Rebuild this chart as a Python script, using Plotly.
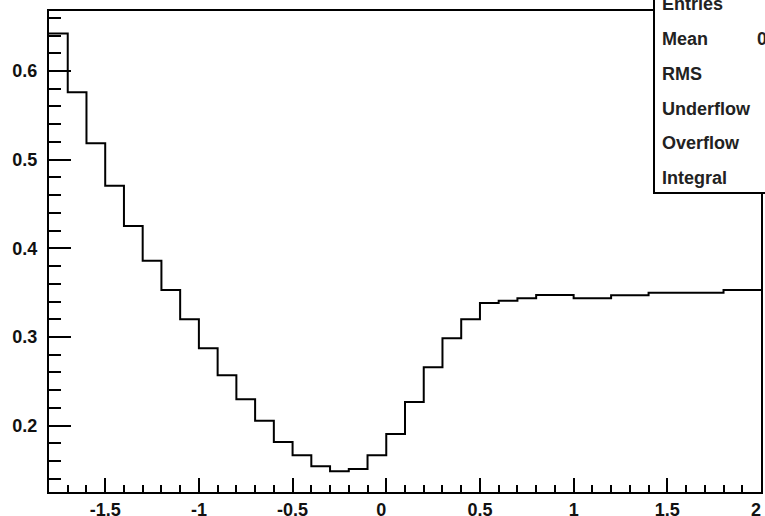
import plotly.graph_objects as go

# histogram: 38 bins of width 0.1 from -1.8 to 2.0
bin_edges = [round(-1.8 + 0.1 * i, 1) for i in range(39)]
bin_values = [
    0.6423, 0.5760, 0.5185, 0.4707, 0.4252, 0.3861, 0.3530, 0.3200, 0.2873, 0.2568,
    0.2298, 0.2056, 0.1816, 0.1666, 0.1542, 0.1486, 0.1512, 0.1666, 0.1906, 0.2267,
    0.2659, 0.2986, 0.3200, 0.3384, 0.3410, 0.3437, 0.3474, 0.3474, 0.3437, 0.3437,
    0.3471, 0.3471, 0.3500, 0.3500, 0.3500, 0.3500, 0.3530, 0.3530,
]
x_tick_vals = [-1.5, -1, -0.5, 0, 0.5, 1, 1.5, 2]
x_tick_text = ["-1.5", "-1", "-0.5", "0\u00a0\u00a0", "0.5", "1", "1.5", "2\u00a0\u00a0"]
y_tick_vals = [0.2, 0.3, 0.4, 0.5, 0.6]
y_tick_text = ["0.2", "0.3", "0.4", "0.5", "0.6"]
stats_labels = ["Entries", "Mean", "RMS", "Underflow", "Overflow", "Integral"]
stats_mean_text = "0"

W, H = 765, 516
L, R, T, B = 49, 4, 11, 24
PW, PH = W - L - R, H - T - B

def px_x(p):
    return (p - L) / PW

def px_y(p):
    return (H - B - p) / PH

xs = bin_edges
ys = bin_values + [bin_values[-1]]

fig = go.Figure()
fig.add_trace(go.Scatter(
    x=xs, y=ys, mode="lines", line=dict(shape="hv", color="black", width=2),
    hoverinfo="skip", showlegend=False, cliponaxis=True,
))

font = dict(family="Liberation Sans", size=18, color="#111111", weight="bold")

fig.update_layout(
    width=W, height=H,
    margin=dict(l=L, r=R, t=T, b=B, pad=0, autoexpand=False),
    paper_bgcolor="white", plot_bgcolor="white",
    showlegend=False,
    xaxis=dict(
        range=[-1.8, 2.0], showgrid=False, zeroline=False, automargin=False,
        showline=True, linecolor="black", linewidth=2, mirror=True,
        ticks="inside", ticklen=14, tickwidth=2, tickcolor="black",
        tickvals=x_tick_vals, ticktext=x_tick_text, tickfont=font,
        ticklabelstandoff=0, ticklabeloverflow="allow",
        minor=dict(dtick=0.1, tick0=0, ticks="inside", ticklen=7, tickwidth=2,
                   tickcolor="black", showgrid=False),
    ),
    yaxis=dict(
        range=[0.1252, 0.6677], showgrid=False, zeroline=False, automargin=False,
        showline=True, linecolor="black", linewidth=2, mirror=True,
        ticks="inside", ticklen=22, tickwidth=2, tickcolor="black",
        tickvals=y_tick_vals, ticktext=y_tick_text, tickfont=font,
        ticklabelstandoff=6, ticklabeloverflow="allow",
        minor=dict(dtick=0.02, tick0=0, ticks="inside", ticklen=12, tickwidth=2,
                   tickcolor="black", showgrid=False),
    ),
)

# stats box
fig.add_shape(type="rect", xref="paper", yref="paper",
              x0=px_x(654), x1=px_x(800), y0=px_y(193), y1=px_y(-20),
              fillcolor="white", line=dict(color="black", width=2), layer="above")

stats_font = dict(family="Liberation Sans", size=18, color="#222222", weight="bold")
stat_y = [4.2, 39, 73.8, 108.6, 143.4, 178.2]
for lab, yy in zip(stats_labels, stat_y):
    fig.add_annotation(text=lab, xref="paper", yref="paper", x=px_x(660), y=px_y(yy),
                       xanchor="left", yanchor="middle", showarrow=False, font=stats_font)
fig.add_annotation(text=stats_mean_text, xref="paper", yref="paper", x=px_x(755), y=px_y(39),
                   xanchor="left", yanchor="middle", showarrow=False, font=stats_font)

fig.write_html("out.html")
